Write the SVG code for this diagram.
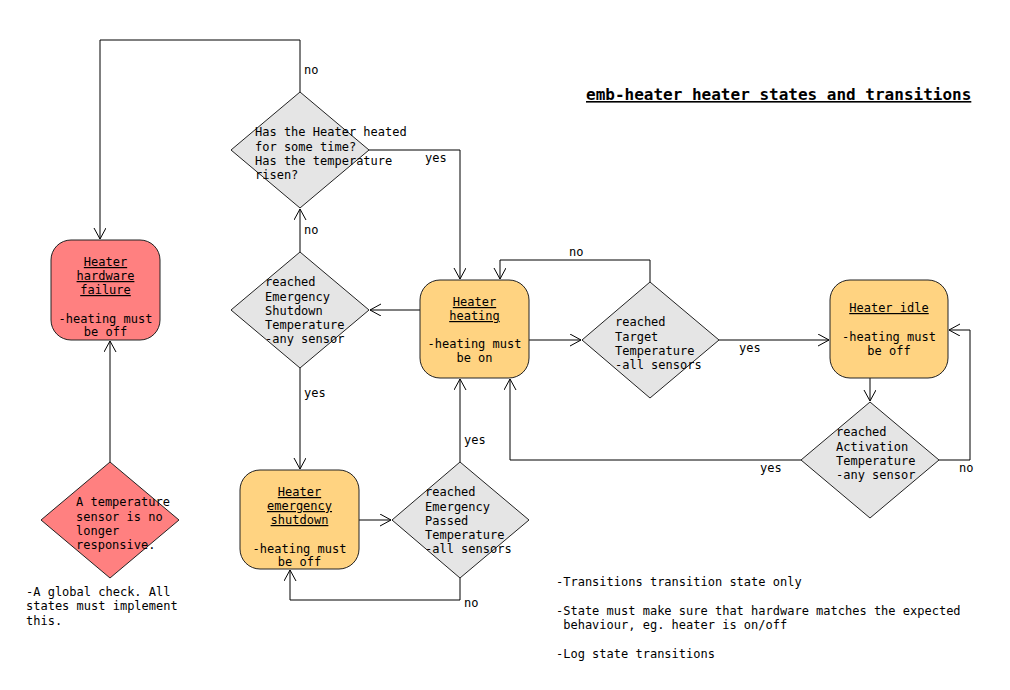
<svg xmlns="http://www.w3.org/2000/svg" width="1010" height="690" viewBox="0 0 1010 690">
<style>
text{font-family:"DejaVu Sans Mono","Liberation Mono",monospace;font-size:12px;fill:#000}
.u{text-decoration:underline}
.c{text-anchor:middle}
.red{fill:#ff8080;stroke:#222;stroke-width:1}
.org{fill:#ffd381;stroke:#222;stroke-width:1}
.gry{fill:#e5e5e5;stroke:#222;stroke-width:1}
.ln{fill:none;stroke:#000;stroke-width:1}
.title{font-size:16px;font-weight:bold}
</style>
<defs>
<marker id="a" markerUnits="userSpaceOnUse" markerWidth="14" markerHeight="14" refX="11" refY="6" orient="auto">
<path d="M0,0 L11,6 L0,12" fill="none" stroke="#000" stroke-width="1"/>
</marker>
</defs>
<rect width="1010" height="690" fill="#fff"/>

<g id="connectors">
<path class="ln" d="M110,462 V341" marker-end="url(#a)"/>
<path class="ln" d="M300,92 V40 H100 V239" marker-end="url(#a)"/>
<path class="ln" d="M369,150 H460 V279" marker-end="url(#a)"/>
<path class="ln" d="M300,252 V209" marker-end="url(#a)"/>
<path class="ln" d="M420,310 H370" marker-end="url(#a)"/>
<path class="ln" d="M300,368 V469" marker-end="url(#a)"/>
<path class="ln" d="M650,282 V260 H500 V279" marker-end="url(#a)"/>
<path class="ln" d="M529,340 H581" marker-end="url(#a)"/>
<path class="ln" d="M719,340 H829" marker-end="url(#a)"/>
<path class="ln" d="M870,378 V401" marker-end="url(#a)"/>
<path class="ln" d="M939,460 H970 V330 H949" marker-end="url(#a)"/>
<path class="ln" d="M801,460 H510 V379" marker-end="url(#a)"/>
<path class="ln" d="M359,520 H391" marker-end="url(#a)"/>
<path class="ln" d="M460,462 V379" marker-end="url(#a)"/>
<path class="ln" d="M460,578 V600 H290 V570" marker-end="url(#a)"/>
<text x="304" y="74">no</text>
<text x="425" y="162">yes</text>
<text x="304" y="234">no</text>
<text x="304" y="397">yes</text>
<text x="569" y="256">no</text>
<text x="739" y="352">yes</text>
<text x="959" y="472">no</text>
<text x="760" y="472">yes</text>
<text x="464" y="444">yes</text>
<text x="464" y="607">no</text>
</g>

<g id="failure">
<rect class="red" x="51" y="240" width="109" height="100" rx="20"/>
<text class="c u" x="105.5" y="266">Heater</text>
<text class="c u" x="105.5" y="280">hardware</text>
<text class="c u" x="105.5" y="294">failure</text>
<text class="c" x="105.5" y="323">-heating must</text>
<text class="c" x="105.5" y="336">be off</text>
</g>

<g id="sensor-check">
<polygon class="red" points="110,462 179,520 110,578 41,520"/>
<text x="76" y="506">A temperature</text>
<text x="76" y="521">sensor is no</text>
<text x="76" y="535">longer</text>
<text x="76" y="549">responsive.</text>
</g>

<g id="global-note">
<text x="26" y="596">-A global check. All</text>
<text x="26" y="610">states must implement</text>
<text x="26" y="625">this.</text>
</g>

<g id="heated-check">
<polygon class="gry" points="300,92 369,150 300,208 231,150"/>
<text x="255" y="136">Has the Heater heated</text>
<text x="255" y="151">for some time?</text>
<text x="255" y="165">Has the temperature</text>
<text x="255" y="179">risen?</text>
</g>

<g id="shutdown-check">
<polygon class="gry" points="300,252 369,310 300,368 231,310"/>
<text x="265" y="286">reached</text>
<text x="265" y="301">Emergency</text>
<text x="265" y="315">Shutdown</text>
<text x="265" y="329">Temperature</text>
<text x="265" y="343">-any sensor</text>
</g>

<g id="heating">
<rect class="org" x="420" y="280" width="109" height="98" rx="20"/>
<text class="c u" x="474.5" y="306">Heater</text>
<text class="c u" x="474.5" y="320">heating</text>
<text class="c" x="474.5" y="348">-heating must</text>
<text class="c" x="474.5" y="362">be on</text>
</g>

<g id="target-check">
<polygon class="gry" points="650,282 719,340 650,398 582,340"/>
<text x="615" y="326">reached</text>
<text x="615" y="341">Target</text>
<text x="615" y="355">Temperature</text>
<text x="615" y="369">-all sensors</text>
</g>

<g id="idle">
<rect class="org" x="830" y="280" width="118" height="98" rx="20"/>
<text class="c u" x="889" y="312">Heater idle</text>
<text class="c" x="889" y="341">-heating must</text>
<text class="c" x="889" y="355">be off</text>
</g>

<g id="activation-check">
<polygon class="gry" points="870,402 939,460 870,518 801,460"/>
<text x="836" y="436">reached</text>
<text x="836" y="451">Activation</text>
<text x="836" y="465">Temperature</text>
<text x="836" y="479">-any sensor</text>
</g>

<g id="emergency">
<rect class="org" x="240" y="470" width="119" height="99" rx="20"/>
<text class="c u" x="299.5" y="496">Heater</text>
<text class="c u" x="299.5" y="510">emergency</text>
<text class="c u" x="299.5" y="524">shutdown</text>
<text class="c" x="299.5" y="553">-heating must</text>
<text class="c" x="299.5" y="566">be off</text>
</g>

<g id="passed-check">
<polygon class="gry" points="460,462 529,520 460,578 392,520"/>
<text x="425" y="496">reached</text>
<text x="425" y="511">Emergency</text>
<text x="425" y="525">Passed</text>
<text x="425" y="539">Temperature</text>
<text x="425" y="553">-all sensors</text>
</g>

<g id="notes">
<text x="556" y="586">-Transitions transition state only</text>
<text x="556" y="615">-State must make sure that hardware matches the expected</text>
<text x="556" y="629" xml:space="preserve"> behaviour, eg. heater is on/off</text>
<text x="556" y="658">-Log state transitions</text>
</g>

<g id="title">
<text class="title u" x="586" y="100">emb-heater heater states and transitions</text>
</g>
</svg>
